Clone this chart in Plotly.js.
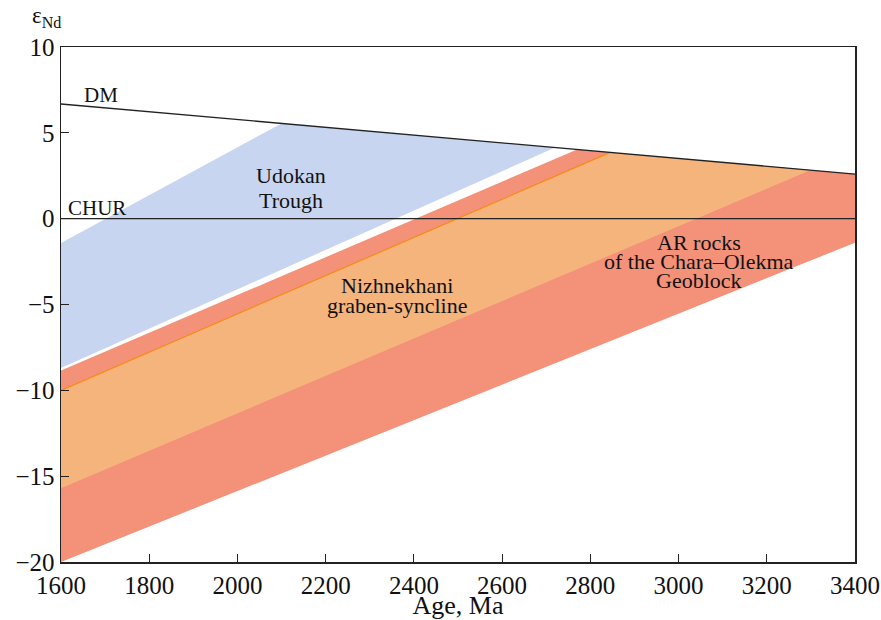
<!DOCTYPE html>
<html>
<head>
<meta charset="utf-8">
<script src="https://cdn.plot.ly/plotly-3.0.1.min.js"></script>
<style>html,body{margin:0;padding:0;background:#fff;}#chart{width:881px;height:620px;}</style>
</head>
<body>
<div id="chart"></div>
<script>
// Reference lines
const dmAge = [1600, 3400];
const dmEps = [6.68, 2.6];
const churAge = [1600, 3400];
const churEps = [0, 0];

// AR rocks of the Chara–Olekma Geoblock (polygon vertices)
const arAge = [1600, 2770, 3400, 3400, 1600];
const arEps = [-8.85, 4.03, 2.6, -1.4, -20];

// Nizhnekhani graben-syncline
const nzAge = [1600, 2845, 3300, 1600];
const nzEps = [-10.0, 3.86, 2.83, -15.7];
const nzTopAge = [1600, 2845];
const nzTopEps = [-10.0, 3.86];

// Udokan Trough
const udAge = [1600, 2100, 2720, 1600];
const udEps = [-1.42, 5.55, 4.14, -8.7];

const xTicks = [1600, 1800, 2000, 2200, 2400, 2600, 2800, 3000, 3200, 3400];
const yTicks = [-20, -15, -10, -5, 0, 5, 10];

// Label lines and their positions (age, eps)
const udLines = ['Udokan', 'Trough'];
const udLabelAge = 2121;
const udLabelEps = [2.49, 1.03];
const nzLines = ['Nizhnekhani', 'graben-syncline'];
const nzLabelAge = 2362;
const nzLabelEps = [-3.92, -5.08];
const arLines = ['AR rocks', 'of the Chara–Olekma', 'Geoblock'];
const arLabelAge = 3047;
const arLabelEps = [-1.36, -2.52, -3.63];

const F = "Liberation Serif, Times New Roman, serif";
const TXT = '#111';

const traces = [
  {x: arAge, y: arEps, mode: 'lines', fill: 'toself', fillcolor: 'rgb(244,145,121)', line: {width: 0}, hoverinfo: 'skip'},
  {x: nzAge, y: nzEps, mode: 'lines', fill: 'toself', fillcolor: 'rgb(246,180,125)', line: {width: 0}, hoverinfo: 'skip'},
  {x: nzTopAge, y: nzTopEps, mode: 'lines', line: {color: 'rgb(245,140,20)', width: 1.2}, hoverinfo: 'skip'},
  {x: udAge, y: udEps, mode: 'lines', fill: 'toself', fillcolor: 'rgb(199,213,240)', line: {width: 0}, hoverinfo: 'skip'},
  {x: churAge, y: churEps, mode: 'lines', line: {color: '#222', width: 1.3}, hoverinfo: 'skip'},
  {x: dmAge, y: dmEps, mode: 'lines', line: {color: '#222', width: 1.3}, hoverinfo: 'skip'}
];

const annotations = [
  {xref: 'paper', yref: 'paper', x: -0.018, y: 1.0, yshift: 30, xanchor: 'center', yanchor: 'middle', showarrow: false,
   text: 'ε<sub>Nd</sub>', font: {family: F, size: 23, color: TXT}},
  {x: 1654, y: 7.2, xanchor: 'left', yanchor: 'middle', showarrow: false, xshift: -3, text: 'DM', font: {family: F, size: 21, color: TXT}},
  {x: 1618, y: 0.62, xanchor: 'left', yanchor: 'middle', showarrow: false, xshift: -3, text: 'CHUR', font: {family: F, size: 21, color: TXT}}
];
function addLines(lines, age, epsArr) {
  lines.forEach((t, i) => annotations.push({x: age, y: epsArr[i], xanchor: 'center', yanchor: 'middle', showarrow: false,
    text: t, font: {family: F, size: 22, color: TXT}}));
}
addLines(udLines, udLabelAge, udLabelEps);
addLines(nzLines, nzLabelAge, nzLabelEps);
addLines(arLines, arLabelAge, arLabelEps);

const layout = {
  width: 881, height: 620,
  margin: {l: 61, r: 26, t: 47, b: 58},
  showlegend: false,
  paper_bgcolor: '#fff', plot_bgcolor: '#fff',
  font: {family: F, size: 24, color: TXT},
  xaxis: {
    range: [1600, 3400], tickvals: xTicks, ticks: 'inside', ticklen: 8, tickcolor: '#222',
    showline: true, linecolor: '#222', linewidth: 1.5, mirror: true, showgrid: false, zeroline: false,
    tickfont: {family: F, size: 25, color: TXT},
    title: {text: 'Age, Ma', font: {family: F, size: 26, color: TXT}, standoff: 0}
  },
  yaxis: {
    range: [-20, 10], tickvals: yTicks, ticks: 'inside', ticklen: 8, tickcolor: '#222',
    showline: true, linecolor: '#222', linewidth: 1.5, mirror: true, showgrid: false, zeroline: false,
    tickfont: {family: F, size: 25, color: TXT}
  },
  annotations: annotations
};

Plotly.newPlot('chart', traces, layout, {displayModeBar: false, staticPlot: true});
</script>
</body>
</html>
